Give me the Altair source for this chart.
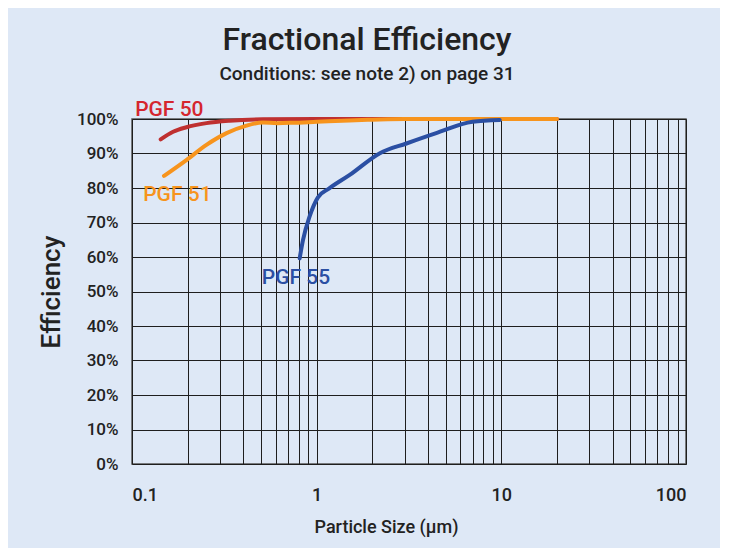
import altair as alt
import pandas as pd

# ---- data ----
pgf50_x = [0.143, 0.167, 0.197, 0.253, 0.338, 0.51, 1.0, 2.0, 5.0, 10.0, 20.0]
pgf50_y = [94.1, 96.3, 97.6, 98.8, 99.5, 99.9, 100, 100, 100, 100, 100]

pgf51_x = [0.149, 0.197, 0.253, 0.325, 0.417, 0.512, 0.61, 0.74, 1.0, 1.5, 2.0, 3.0, 5.0, 10.0, 20.0]
pgf51_y = [83.5, 88.1, 92.5, 95.9, 98.1, 99.0, 98.8, 98.9, 99.2, 99.6, 99.8, 100, 100, 100, 100]

pgf55_x = [0.809, 0.843, 0.915, 1.016, 1.17, 1.51, 2.2, 3.06, 4.44, 6.98, 9.8]
pgf55_y = [59.6, 64.9, 71.7, 77.3, 79.9, 83.8, 90.1, 92.9, 95.9, 99.2, 99.7]

series_names = ["PGF 50", "PGF 51", "PGF 55"]
line_colors = ["#bf3030", "#f7941d", "#2b4fa3"]
label_colors = ["#d5262e", "#f7941d", "#2b4fa3"]

label_x = [0.104, 0.115, 0.505]
label_y = [102.6, 78.0, 53.9]

x_grid = [0.1, 0.2, 0.3, 0.4, 0.5, 0.6, 0.7, 0.8, 0.9,
          1, 2, 3, 4, 5, 6, 7, 8, 9,
          10, 20, 30, 40, 50, 60, 70, 80, 90, 100]
y_ticks = [0, 10, 20, 30, 40, 50, 60, 70, 80, 90, 100]

rows = []
for name, xs, ys in zip(series_names, [pgf50_x, pgf51_x, pgf55_x], [pgf50_y, pgf51_y, pgf55_y]):
    for i, (a, b) in enumerate(zip(xs, ys)):
        rows.append({"series": name, "size": a, "eff": b, "i": i})
df = pd.DataFrame(rows)
labels = pd.DataFrame({"series": series_names, "size": label_x, "eff": label_y})

FONT = "Roboto"

x_scale = alt.Scale(type="log", domain=[0.1, 100], nice=False)
y_scale = alt.Scale(domain=[0, 100], nice=False)
color_scale = alt.Scale(domain=series_names, range=line_colors)

x_axis = alt.Axis(
    values=x_grid,
    labelExpr="(datum.value==0.1||datum.value==1||datum.value==10||datum.value==100) ? datum.label : ''",
    format="~g",
    labelOverlap=False,
    ticks=False,
    domain=False,
    grid=True,
    gridColor="#1e1e1e",
    gridWidth=1,
    labelFont=FONT,
    labelFontSize=18,
    labelFontWeight=500,
    labelColor="#222222",
    labelPadding=22,
    title="Particle Size (µm)",
    titleFont=FONT,
    titleFontSize=18,
    titleFontWeight=500,
    titleColor="#222222",
    titleX=254,
    titlePadding=14,
)
y_axis = alt.Axis(
    values=y_ticks,
    labelExpr="datum.value + '%'",
    labelOverlap=False,
    ticks=False,
    domain=False,
    grid=True,
    gridColor="#1e1e1e",
    gridWidth=1,
    labelFont=FONT,
    labelFontSize=17,
    labelFontWeight=500,
    labelColor="#222222",
    labelPadding=14,
    title="Efficiency",
    titleFont=FONT,
    titleFontSize=26,
    titleFontWeight=500,
    titleColor="#222222",
    titlePadding=12,
)

lines = alt.Chart(df).mark_line(strokeWidth=4, interpolate="monotone", strokeCap="round").encode(
    x=alt.X("size:Q", scale=x_scale, axis=x_axis),
    y=alt.Y("eff:Q", scale=y_scale, axis=y_axis),
    color=alt.Color("series:N", scale=color_scale, legend=None),
    order="i:Q",
)

texts = alt.Chart(labels).mark_text(align="left", baseline="middle", font=FONT, fontSize=21, fontWeight=500).encode(
    x=alt.X("size:Q", scale=x_scale, axis=x_axis),
    y=alt.Y("eff:Q", scale=y_scale, axis=y_axis),
    text="series:N",
    color=alt.Color("series:N", scale=alt.Scale(domain=series_names, range=label_colors), legend=None),
)

chart = alt.layer(lines, texts).resolve_scale(color="independent").properties(
    width=554,
    height=345,
    autosize=alt.AutoSizeParams(type="none"),
    padding={"left": 124, "top": 111, "right": 34, "bottom": 84},
    background="#dee8f6",
    title=alt.TitleParams(
        text="Fractional Efficiency",
        subtitle="Conditions: see note 2) on page 31",
        font=FONT,
        fontSize=32,
        fontWeight=500,
        color="#222222",
        subtitleFont=FONT,
        subtitleFontSize=19,
        subtitleFontWeight=500,
        subtitleColor="#222222",
        subtitlePadding=8,
        anchor="middle",
        dx=-42,
        offset=14,
    ),
).configure_view(stroke="#555555", strokeWidth=1.5)

chart.save("out.html", embed_options={"renderer": "svg", "actions": False})
